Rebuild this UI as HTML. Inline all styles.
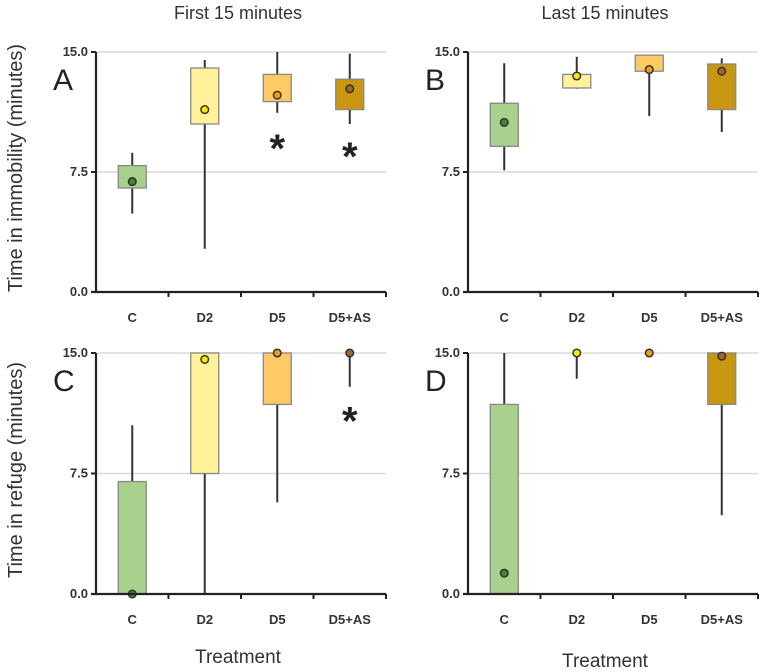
<!DOCTYPE html>
<html><head><meta charset="utf-8"><style>
body{margin:0;background:#fff;}
svg{display:block;font-family:"Liberation Sans",sans-serif;}
</style></head><body>
<svg id="chart" width="761" height="672"></svg>
<script>
const categories=["C","D2","D5","D5+AS"];
const fills=["#a9d18e","#fff29a","#ffca66","#c9970f"];
const meanFills=["#4f7f33","#ffe800","#f59a1a","#a2652c"];
// each: [whiskerLow, boxLow, boxHigh, whiskerHigh, mean] (null box = no box)
const panelA=[[4.9,6.5,7.9,8.7,6.9],[2.7,10.5,14.0,14.5,11.4],[11.2,11.9,13.6,15,12.3],[10.5,11.4,13.3,14.9,12.7]];
const panelB=[[7.6,9.1,11.8,14.3,10.6],[12.7,12.75,13.6,14.7,13.5],[11,13.8,14.8,14.8,13.9],[10,11.4,14.25,14.6,13.8]];
const panelC=[[0,0,7.0,10.5,0],[0,7.5,15,15,14.6],[5.7,11.8,15,15,15],[12.9,null,null,15,15]];
const panelD=[[0,0,11.8,15,1.3],[13.4,null,null,15,15],[15,null,null,15,15],[4.9,11.8,15,15,14.8]];
const yTicks=[0,7.5,15];
const yTickLabels=["0.0","7.5","15.0"];
const stars={A:[2,3],B:[],C:[3],D:[]};
const starVals={A:[9.8,9.3],C:[11.6]};
const NS="http://www.w3.org/2000/svg";
const svg=document.getElementById("chart");
function mk(t,a,p){const e=document.createElementNS(NS,t);for(const k in a)e.setAttribute(k,a[k]);(p||svg).appendChild(e);return e;}
function panel(name,data,x0,y0,yTop,xEnd){
  const g=mk("g",{});
  
  
  const ys=v=>y0-(y0-yTop)*v/15;
  const step=72.5;
  const xc=i=>x0+step*(i+0.5);
  yTicks.forEach((t,i)=>{
    if(t>0){const gl=mk("line",{x1:x0,x2:xEnd,y1:ys(t),y2:ys(t),stroke:"#d9d9d9","stroke-width":1.5},g);
    }
    const tk=mk("line",{x1:x0-5,x2:x0,y1:ys(t),y2:ys(t),stroke:"#222","stroke-width":2},g);
    
    const tl=mk("text",{x:x0-8,y:ys(t)+4,"text-anchor":"end","font-size":"13","font-weight":"bold",fill:"#333"},g);
    tl.textContent=yTickLabels[i];
    
  });
  data.forEach((d,i)=>{
    const x=xc(i);
    const w=mk("line",{x1:x,x2:x,y1:ys(d[0]),y2:ys(d[3]),stroke:"#333","stroke-width":2},g);
    
    if(d[1]!==null){
      const b=mk("rect",{x:x-14,y:ys(d[2]),width:28,height:ys(d[1])-ys(d[2]),fill:fills[i],stroke:"#888","stroke-width":1.3},g);
      
    }
    const m=mk("circle",{cx:x,cy:ys(d[4]),r:3.8,fill:meanFills[i],stroke:"#333","stroke-width":1.5},g);
    
    const cl=mk("text",{x:x,y:y0+30,"text-anchor":"middle","font-size":"13","font-weight":"bold",fill:"#333"},g);
    cl.textContent=categories[i];
    
    const xt=mk("line",{x1:x0+step*(i+1),x2:x0+step*(i+1),y1:y0,y2:y0+5,stroke:"#222","stroke-width":2},g);
    
  });
  (stars[name]||[]).forEach((ci,k)=>{
    const s=mk("text",{x:xc(ci),y:ys(starVals[name][k])+27,"text-anchor":"middle","font-size":"40","font-weight":"bold",fill:"#222"},g);
    s.textContent="*";
    
  });
  const ya=mk("line",{x1:x0,x2:x0,y1:yTop,y2:y0,stroke:"#222","stroke-width":2.2},g);
  
  const xa=mk("line",{x1:x0-5,x2:xEnd,y1:y0,y2:y0,stroke:"#222","stroke-width":2.2},g);
  
  const pl=mk("text",{x:x0-43,y:yTop+38,"font-size":"30",fill:"#222"},g);
  pl.textContent=name;
  
}
panel("A",panelA,96,292,52,386);
panel("B",panelB,468,292,52,758);
panel("C",panelC,96,594,353,386);
panel("D",panelD,468,594,353,758);
function txt(s,a,name){const t=mk("text",a);t.textContent=s;}
txt("First 15 minutes",{x:238,y:19,"text-anchor":"middle","font-size":"18",fill:"#333"},"column-title-first");
txt("Last 15 minutes",{x:605,y:19,"text-anchor":"middle","font-size":"18",fill:"#333"},"column-title-last");
txt("Treatment",{x:238,y:663,"text-anchor":"middle","font-size":"19",fill:"#333"},"x-axis-title-left");
txt("Treatment",{x:605,y:667,"text-anchor":"middle","font-size":"19",fill:"#333"},"x-axis-title-right");
txt("Time in immobility (minutes)",{x:0,y:0,transform:"translate(22,168) rotate(-90)","text-anchor":"middle","font-size":"20",fill:"#333"},"y-axis-title-immobility");
txt("Time in refuge (minutes)",{x:0,y:0,transform:"translate(22,470) rotate(-90)","text-anchor":"middle","font-size":"20",fill:"#333"},"y-axis-title-refuge");
</script>
</body></html>
